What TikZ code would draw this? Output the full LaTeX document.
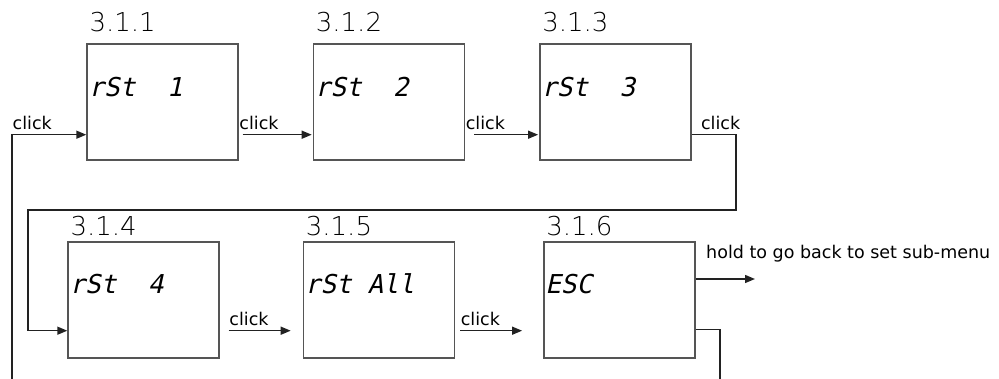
\documentclass[tikz,border=0pt]{standalone}
\usepackage{fontspec}
\setmainfont{DejaVu Sans}
\newfontfamily\numfont{DejaVu Sans ExtraLight}
\newfontfamily\lcdfont{DejaVu Sans Mono}[FakeSlant=0.22]
\usepackage{tikz}
\usetikzlibrary{arrows.meta,positioning}
\definecolor{Frame}{HTML}{555555}
\definecolor{Wire}{HTML}{222222}

\begin{document}
\begin{tikzpicture}[
  x=1pt, y=-1pt,
  screen/.style={draw=Frame, line width=1.4pt, minimum width=151pt,
    minimum height=116pt, inner sep=0pt},
  menunum/.style={font=\numfont\fontsize{26}{26}\selectfont, anchor=base west, inner sep=0pt},
  lcd/.style={font=\lcdfont\fontsize{26}{26}\selectfont, anchor=base west, inner sep=0pt},
  tag/.style={font=\fontsize{17.5}{17.5}\selectfont, inner sep=0pt},
  arrow/.style={-{Triangle[length=10pt,width=8pt]}, line width=1.4pt, draw=Wire},
  wire/.style={line width=1.4pt, draw=Wire}
]
\useasboundingbox (0,0) rectangle (999,379);

% first row
\node[screen] (b1) at (162.5,102) {};
\node[screen, right=74pt of b1] (b2) {};
\node[screen, right=74pt of b2] (b3) {};
% second row
\node[screen] (b4) at (143.5,300) {};
\node[screen, right=83pt of b4] (b5) {};
\node[screen, right=88pt of b5] (b6) {};

\node[menunum] (n1) at ([xshift=3pt,yshift=12pt]b1.north west) {3.1.1};
\node[menunum] (n2) at ([xshift=3pt,yshift=12pt]b2.north west) {3.1.2};
\node[menunum] (n3) at ([xshift=3pt,yshift=12pt]b3.north west) {3.1.3};
\node[menunum] (n4) at ([xshift=3pt,yshift=6pt]b4.north west) {3.1.4};
\node[menunum] (n5) at ([xshift=3pt,yshift=6pt]b5.north west) {3.1.5};
\node[menunum] (n6) at ([xshift=3pt,yshift=6pt]b6.north west) {3.1.6};

\node[lcd] (d1) at ([xshift=2pt,yshift=-53pt]b1.north west) {rSt~~1};
\node[lcd] (d2) at ([xshift=2pt,yshift=-53pt]b2.north west) {rSt~~2};
\node[lcd] (d3) at ([xshift=2pt,yshift=-53pt]b3.north west) {rSt~~3};
\node[lcd] (d4) at ([xshift=2pt,yshift=-52pt]b4.north west) {rSt~~4};
\node[lcd] (d5) at ([xshift=2pt,yshift=-52pt]b5.north west) {rSt~All};
\node[lcd] (d6) at ([xshift=2pt,yshift=-52pt]b6.north west) {ESC};

\coordinate (in0) at (12,379);
\coordinate (up3) at (736,210);
\coordinate (dn4) at (28,210);
\coordinate (back) at (755,279);
\coordinate (out6) at (720,379);

\draw[arrow] (in0) |- ([yshift=26pt]b1.south west)
  node[tag, pos=0.5, anchor=south west, yshift=4pt] {click};
\draw[arrow, shorten <=4pt, shorten >=1pt] ([yshift=26pt]b1.south east) -- ([yshift=26pt]b2.south west)
  node[tag, pos=0, anchor=south west, yshift=4pt] {click};
\draw[arrow, shorten <=9pt, shorten >=1pt] ([yshift=26pt]b2.south east) -- ([yshift=26pt]b3.south west)
  node[tag, pos=0, anchor=south west, yshift=4pt] {click};
\draw[arrow] ([yshift=26pt]b3.south east)
  -- ([yshift=26pt]b3.south east -| up3) node[tag, pos=0.2, anchor=south west, yshift=4pt] {click}
  -- (up3) -- (dn4) |- ([yshift=28pt]b4.south west);
\draw[arrow, shorten <=9pt, shorten >=12pt] ([yshift=28pt]b4.south east) -- ([yshift=28pt]b5.south west)
  node[tag, pos=0, anchor=south west, xshift=9pt, yshift=4pt] {click};
\draw[arrow, shorten <=5pt, shorten >=21pt] ([yshift=28pt]b5.south east) -- ([yshift=28pt]b6.south west)
  node[tag, pos=0, anchor=south west, xshift=5pt, yshift=4pt] {click};
\draw[arrow] (b6.east |- back) -- (back)
  node[tag, pos=0, anchor=south west, xshift=10pt, yshift=16pt] {hold to go back to set sub-menu};
\draw[wire] ([yshift=29pt]b6.south east) -| (out6);
\end{tikzpicture}
\end{document}
